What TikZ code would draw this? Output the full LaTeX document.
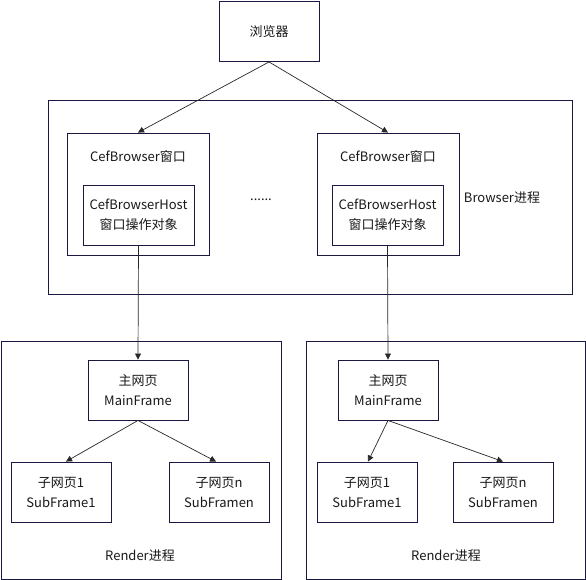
\documentclass[tikz,border=0pt]{standalone}
\usepackage{fontspec}
\setmainfont{Noto Sans CJK SC}
\usetikzlibrary{arrows.meta}
\definecolor{edgec}{RGB}{24,24,64}
\definecolor{arrc}{RGB}{40,40,40}
\tikzset{
  box/.style={draw=edgec, line width=0.9pt, fill=white, inner sep=0pt, align=center, font=\fontsize{13}{20}\selectfont, text=black!90},
  lbl/.style={inner sep=0pt, font=\fontsize{13}{20}\selectfont, text=black!90},
  arr/.style={draw=arrc, line width=0.7pt, -{Triangle[length=6pt,width=6pt]}}
}
\begin{document}
\begin{tikzpicture}[x=1pt,y=-1pt]
\useasboundingbox (0,0) rectangle (586,580);
% top browser
\node[box, minimum width=100pt, minimum height=60pt] (browser) at (269,31.5) {浏览器};
% Browser process
\node[box, minimum width=524pt, minimum height=194pt] (bproc) at (310,197) {};
\node[lbl] (blabel) at (502,198) {Browser进程};
\node[lbl] (dots) at (261,200) {......};
% left CefBrowser
\node[box, minimum width=142pt, minimum height=122pt] (lcef) at (138,194) {};
\node[lbl] (lceft) at (138,157) {CefBrowser窗口};
\node[box, minimum width=111pt, minimum height=60pt] (lhost) at (138.5,215) {CefBrowserHost\\窗口操作对象};
% right CefBrowser
\node[box, minimum width=142pt, minimum height=122pt] (rcef) at (388,194) {};
\node[lbl] (rceft) at (388,157) {CefBrowser窗口};
\node[box, minimum width=111pt, minimum height=60pt] (rhost) at (387.5,215) {CefBrowserHost\\窗口操作对象};
% left render
\node[box, minimum width=280pt, minimum height=238pt] (lrender) at (141,460) {};
\node[lbl] (lrl) at (140,556) {Render进程};
\node[box, minimum width=100pt, minimum height=60pt] (lmain) at (138,390) {主网页\\MainFrame};
\node[box, minimum width=100pt, minimum height=60pt] (lsub1) at (61,492) {子网页1\\SubFrame1};
\node[box, minimum width=100pt, minimum height=60pt] (lsubn) at (219,492) {子网页n\\SubFramen};
% right render
\node[box, minimum width=279pt, minimum height=238pt] (rrender) at (445.5,460) {};
\node[lbl] (rrl) at (446,556) {Render进程};
\node[box, minimum width=100pt, minimum height=60pt] (rmain) at (388,390) {主网页\\MainFrame};
\node[box, minimum width=100pt, minimum height=60pt] (rsub1) at (367,492) {子网页1\\SubFrame1};
\node[box, minimum width=100pt, minimum height=60pt] (rsubn) at (503,492) {子网页n\\SubFramen};
% arrows
\draw[arr] (browser.south) -- (lcef.north);
\draw[arr] (browser.south) -- (rcef.north);
\draw[arr] (lhost.south) -- (lmain.north);
\draw[arr] (rhost.south) -- (rmain.north);
\draw[arr] (lmain.south) -- ([xshift=5pt]lsub1.north);
\draw[arr] (lmain.south) -- ([xshift=-3pt]lsubn.north);
\draw[arr] (rmain.south) -- ([xshift=1pt]rsub1.north);
\draw[arr] (rmain.south) -- (rsubn.north);
\end{tikzpicture}
\end{document}
